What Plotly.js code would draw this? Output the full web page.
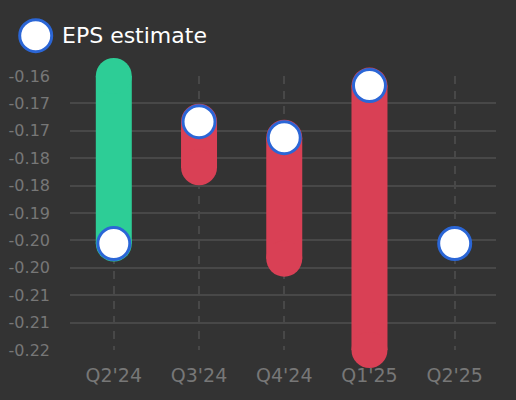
<!DOCTYPE html>
<html>
<head>
<meta charset="utf-8">
<script src="https://cdn.plot.ly/plotly-3.0.1.min.js"></script>
<style>
  html, body { margin: 0; padding: 0; background: #333333; }
  #plot { width: 516px; height: 400px; }
</style>
</head>
<body>
<div id="plot"></div>
<script>
// Datos
const quarters = ["Q2'24", "Q3'24", "Q4'24", "Q1'25", "Q2'25"];
const epsEstimate = [-0.1967, -0.170, -0.1735, -0.1621, -0.1967];
const epsActual = [-0.160, -0.180, -0.200, -0.220, null];
const yTickVals = [-0.16, -0.166, -0.172, -0.178, -0.184, -0.19, -0.196, -0.202, -0.208, -0.214, -0.22];
// etiquetas con guion simple, como en el original
const yTickText = yTickVals.map(v => v.toFixed(2));

const GREEN = '#2dcd96';
const RED = '#d94055';
const BLUE = '#2b66d6';

// 1. Barras redondeadas: linea gruesa + circulos en los extremos
function barTrace(color, keep) {
  const x = [], y = [];
  quarters.forEach((q, i) => {
    if (epsActual[i] === null || !keep(epsActual[i], epsEstimate[i])) return;
    x.push(q, q, null);
    y.push(epsEstimate[i], epsActual[i], null);
  });
  return {
    type: 'scatter',
    mode: 'lines+markers',
    x: x, y: y,
    line: { color: color, width: 36 },
    marker: { color: color, size: 36, line: { width: 0 } },
    cliponaxis: false,
    connectgaps: false,
    hoverinfo: 'skip',
    showlegend: false
  };
}

const beatTrace = barTrace(GREEN, (a, e) => a >= e);
const missTrace = barTrace(RED, (a, e) => a < e);

// 2. Estimaciones
const estimateTrace = {
  type: 'scatter',
  mode: 'markers',
  name: 'EPS estimate',
  x: quarters,
  y: epsEstimate,
  marker: { color: '#ffffff', size: 32, line: { color: BLUE, width: 3 } },
  cliponaxis: false,
  showlegend: false
};

const layout = {
  width: 516,
  height: 400,
  paper_bgcolor: '#333333',
  plot_bgcolor: '#333333',
  font: { family: 'DejaVu Sans, sans-serif', color: '#777777' },
  margin: { l: 70, r: 20, t: 76, b: 50 },
  showlegend: false,
  xaxis: {
    type: 'category',
    showgrid: true,
    gridcolor: '#484848',
    gridwidth: 2,
    griddash: '8px,7px',
    zeroline: false,
    showline: false,
    ticks: '',
    ticklabelstandoff: 12,
    tickfont: { size: 19, color: '#777777' }
  },
  yaxis: {
    range: [-0.22, -0.16],
    tickmode: 'array',
    tickvals: yTickVals,
    ticktext: yTickText,
    showgrid: true,
    gridcolor: '#484848',
    gridwidth: 2,
    zeroline: false,
    showline: false,
    ticks: '',
    ticklabelstandoff: 19,
    tickfont: { size: 16, color: '#777777' }
  },
  // Leyenda dibujada a mano para respetar el tamano del marcador
  shapes: [{
    type: 'circle',
    xref: 'paper', yref: 'paper',
    xsizemode: 'pixel', ysizemode: 'pixel',
    xanchor: -0.0805, yanchor: 1.147,
    x0: -16, x1: 16, y0: -16, y1: 16,
    fillcolor: '#ffffff',
    line: { color: BLUE, width: 3 }
  }],
  annotations: [{
    xref: 'paper', yref: 'paper',
    x: -0.0235, y: 1.147,
    xanchor: 'left', yanchor: 'middle',
    text: 'EPS estimate',
    showarrow: false,
    font: { size: 22, color: '#ffffff' }
  }]
};

Plotly.newPlot('plot', [beatTrace, missTrace, estimateTrace], layout, {
  staticPlot: true,
  displayModeBar: false
});
</script>
</body>
</html>
